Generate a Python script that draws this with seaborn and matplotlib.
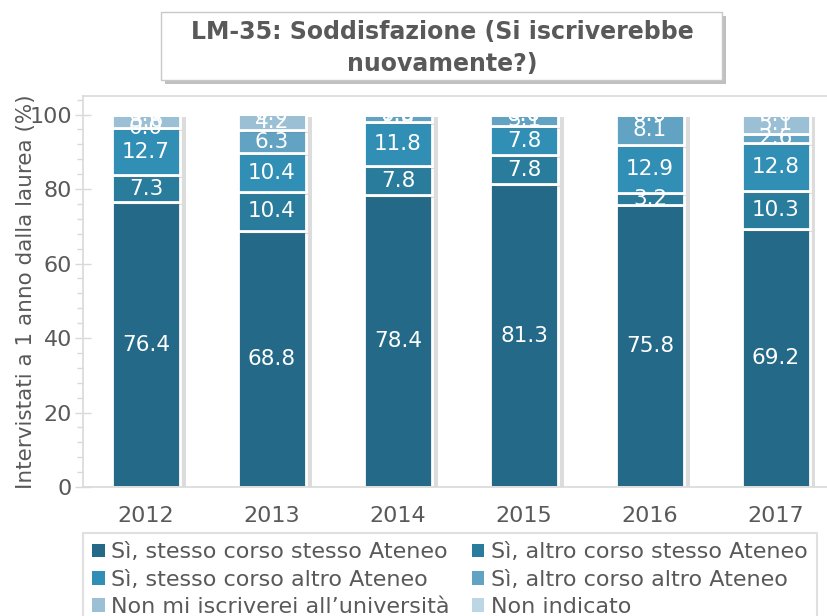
import matplotlib
matplotlib.use("Agg")
import matplotlib.pyplot as plt
import matplotlib.patheffects as pe
from matplotlib.patches import FancyBboxPatch, Patch
from matplotlib.ticker import MultipleLocator
import numpy as np
import pandas as pd
import seaborn as sns

years = ["2012", "2013", "2014", "2015", "2016", "2017"]
categories = [
    "Sì, stesso corso stesso Ateneo",
    "Sì, altro corso stesso Ateneo",
    "Sì, stesso corso altro Ateneo",
    "Sì, altro corso altro Ateneo",
    "Non mi iscriverei all\u2019università",
    "Non indicato",
]
stesso_stesso = [76.4, 68.8, 78.4, 81.3, 75.8, 69.2]
altro_stesso = [7.3, 10.4, 7.8, 7.8, 3.2, 10.3]
stesso_altro = [12.7, 10.4, 11.8, 7.8, 12.9, 12.8]
altro_altro = [0.0, 6.3, 2.0, 3.1, 8.1, 2.6]
non_iscriverei = [3.6, 4.2, 0.0, 0.0, 0.0, 5.1]
non_indicato = [0.0, 0.0, 0.0, 0.0, 0.0, 0.0]
series = [stesso_stesso, altro_stesso, stesso_altro, altro_altro, non_iscriverei, non_indicato]
colors = ["#246a88", "#2a7c9c", "#318eb5", "#62a3c3", "#9bbfd4", "#bcd6e5"]

title = "LM-35: Soddisfazione (Si iscriverebbe\nnuovamente?)"
ylabel = "Intervistati a 1 anno dalla laurea (%)"

sns.set_theme(style="white")
plt.rcParams["font.family"] = ["DejaVu Sans"]
txt = "#595959"
grey = "#d9d9d9"

fig = plt.figure(figsize=(8.27, 6.16), dpi=100)
ax = fig.add_axes([0.1004, 0.2094, 0.914, 0.6348])

bottom = np.zeros(len(years))
shadow = [pe.SimplePatchShadow(offset=(4, -2), shadow_rgbFace="#777777", alpha=0.25), pe.Normal()]
for cat, vals, col in zip(categories, series, colors):
    df = pd.DataFrame({"year": years, "val": vals})
    n_before = len(ax.patches)
    sns.barplot(data=df, x="year", y="val", color=col, saturation=1, width=0.54,
                bottom=bottom, edgecolor="white", linewidth=2, ax=ax, errorbar=None)
    for p in ax.patches[n_before:]:
        p.set_path_effects(shadow)
    for i, v in enumerate(vals):
        ax.text(i, bottom[i] + v / 2, f"{v:.1f}", ha="center", va="center",
                color="white", fontsize=15.5, zorder=5)
    bottom = bottom + np.array(vals)

ax.set_xlim(-0.5, 5.5)
ax.set_ylim(0, 105)
ax.set_xlabel("")
ax.set_ylabel(ylabel, fontsize=15.5, color=txt)
ax.yaxis.set_label_coords(-0.062, 0.5)
ax.yaxis.set_major_locator(MultipleLocator(20))
ax.yaxis.set_minor_locator(MultipleLocator(4))
ax.tick_params(axis="y", which="major", direction="inout", length=12, width=1, color=grey,
               labelsize=16, labelcolor=txt, pad=2, left=True)
ax.tick_params(axis="y", which="minor", direction="out", length=4, width=1, color=grey, left=True)
ax.tick_params(axis="x", length=0, labelsize=16, labelcolor=txt, pad=14)
for s in ax.spines.values():
    s.set_color(grey)
    s.set_linewidth(1.2)

# title box
box = FancyBboxPatch((161 / 827, 1 - 80 / 616), (722 - 161) / 827, (80 - 12) / 616,
                     boxstyle="square,pad=0", transform=fig.transFigure,
                     facecolor="white", edgecolor="#c8c8c8", linewidth=1,
                     path_effects=[pe.SimplePatchShadow(offset=(3, -3), alpha=0.35), pe.Normal()])
fig.patches.append(box)
fig.text(442 / 827, 1 - 48 / 616, title, ha="center", va="center", fontsize=17,
         fontweight="bold", color=txt, linespacing=1.45)

handles = [Patch(facecolor=c, edgecolor="none") for c in colors]
order = [0, 2, 4, 1, 3, 5]
leg = fig.legend([handles[i] for i in order], [categories[i] for i in order],
                 ncol=2, loc="upper left", bbox_to_anchor=(83 / 827, 1 - 533 / 616),
                 frameon=True, fancybox=False, edgecolor=grey, fontsize=16,
                 handlelength=0.55, handleheight=0.55, handletextpad=0.3,
                 columnspacing=1.0, labelspacing=0.33, borderpad=0.42, borderaxespad=0)
leg.get_frame().set_linewidth(1.5)
for t in leg.get_texts():
    t.set_color(txt)

fig.savefig("out.png", dpi=100)
